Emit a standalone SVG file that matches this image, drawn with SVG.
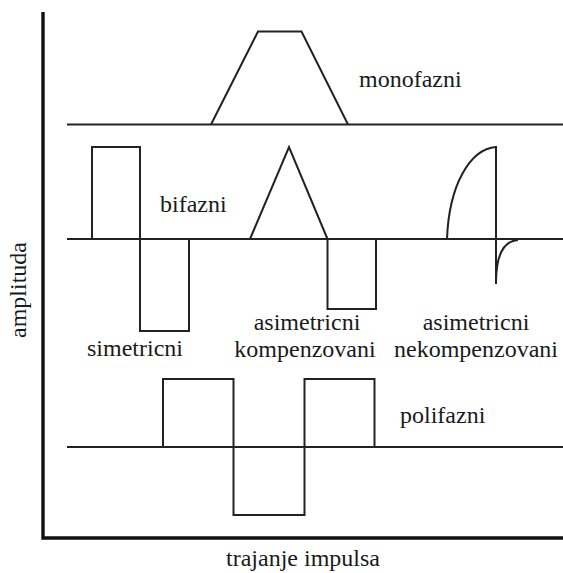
<svg xmlns="http://www.w3.org/2000/svg" width="563" height="573" viewBox="0 0 563 573">
<style>
.ln{fill:none;stroke:#222;stroke-width:2;stroke-linejoin:miter}
.ax{fill:none;stroke:#111;stroke-width:3.4}
.t{font-family:"Liberation Serif","Times New Roman",serif;font-size:24px;fill:#1a1a1a}
</style>
<rect width="563" height="573" fill="#fff"/>
<g id="axes">
<path class="ax" d="M43,12 V538 H563"/>
<text class="t" text-anchor="middle" transform="translate(25.5,290) rotate(-90)">amplituda</text>
<text class="t" text-anchor="middle" x="303" y="566">trajanje impulsa</text>
</g>
<g id="monofazni">
<path class="ln" d="M67,124.5 H563"/>
<path class="ln" d="M211,124.5 L258,31.5 H301.5 L348,124.5"/>
<text class="t" x="359" y="87">monofazni</text>
</g>
<g id="bifazni">
<path class="ln" d="M67,239 H563"/>
<rect class="ln" x="92" y="147" width="48" height="92"/>
<rect class="ln" x="140" y="239" width="49" height="92"/>
<path class="ln" d="M250,239 L289,147 L327.5,239"/>
<rect class="ln" x="327.5" y="239" width="48.5" height="70"/>
<path class="ln" d="M447,239 C449,185 470,149 496,147 V284"/>
<path class="ln" d="M496,283 C496,255 503,241 518,240"/>
<text class="t" x="160" y="212">bifazni</text>
<text class="t" x="87" y="356">simetricni</text>
<text class="t" text-anchor="middle" x="307" y="330">asimetricni</text>
<text class="t" text-anchor="middle" x="305" y="357">kompenzovani</text>
<text class="t" text-anchor="middle" x="476" y="330">asimetricni</text>
<text class="t" text-anchor="middle" x="476" y="357">nekompenzovani</text>
</g>
<g id="polifazni">
<path class="ln" d="M67,447 H563"/>
<rect class="ln" x="163" y="379" width="70.5" height="68"/>
<rect class="ln" x="233.5" y="447" width="71" height="68"/>
<rect class="ln" x="304.5" y="379" width="70" height="68"/>
<text class="t" x="400" y="423">polifazni</text>
</g>
</svg>
